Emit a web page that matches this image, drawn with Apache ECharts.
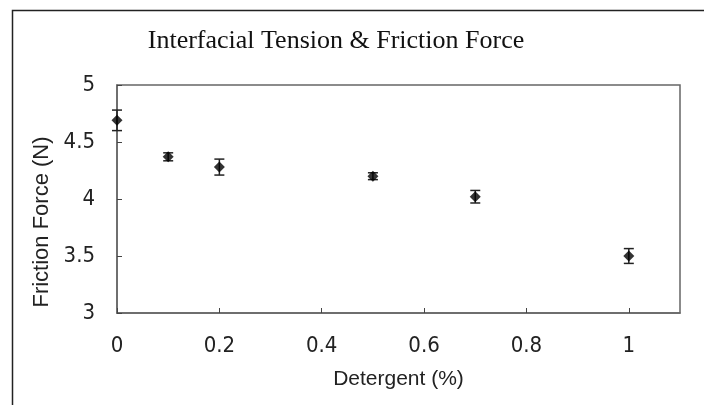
<!DOCTYPE html>
<html style="height:100%">
<head>
    <meta charset="utf-8">
    <title>Interfacial Tension & Friction Force</title>
    <script src="https://cdn.jsdelivr.net/npm/echarts@6/dist/echarts.min.js"></script>
</head>
<body style="height:100%;margin:0">
    <div id="main" style="width:704px;height:405px;"></div>
    <script type="text/javascript">
        var detergent = [0, 0.1, 0.2, 0.5, 0.7, 1.0];
        var friction = [4.69, 4.37, 4.28, 4.2, 4.02, 3.5];
        var errorMargin = [0.09, 0.035, 0.07, 0.03, 0.055, 0.065];

        var narrow = "'Liberation Sans Narrow', 'DejaVu Sans Condensed', sans-serif";
        var sans = "'Liberation Sans', Arial, sans-serif";

        var myChart = echarts.init(document.getElementById('main'));

        var points = detergent.map(function (x, i) { return [x, friction[i]]; });
        var bars = detergent.map(function (x, i) {
            return [x, friction[i] - errorMargin[i], friction[i] + errorMargin[i]];
        });

        var option = {
            backgroundColor: '#fff',
            animation: false,
            title: {
                text: 'Interfacial Tension & Friction Force',
                left: 331,
                textAlign: 'center',
                top: 23,
                textStyle: {
                    fontFamily: "'Liberation Serif', 'DejaVu Serif', serif",
                    fontWeight: 'normal',
                    fontSize: 26,
                    color: '#111'
                }
            },
            graphic: [{
                type: 'rect',
                left: 10,
                top: 8,
                shape: { width: 720, height: 420 },
                style: { fill: 'none', stroke: '#222', lineWidth: 1.5 },
                silent: true
            }],
            grid: {
                left: 117,
                right: 24,
                top: 85,
                bottom: 92,
                show: true,
                borderColor: '#666',
                borderWidth: 1.5,
                backgroundColor: 'transparent'
            },
            xAxis: {
                type: 'value',
                min: 0,
                max: 1.1,
                interval: 0.2,
                name: 'Detergent (%)',
                nameLocation: 'middle',
                nameGap: 56,
                nameTextStyle: { fontFamily: sans, fontSize: 21, color: '#222' },
                axisLine: { show: true, lineStyle: { color: '#666', width: 1.5 } },
                axisTick: { show: true, inside: true, length: 5, lineStyle: { color: '#444' } },
                axisLabel: {
                    margin: 22,
                    showMaxLabel: false,
                    fontFamily: narrow,
                    fontSize: 22,
                    color: '#222'
                },
                splitLine: { show: false }
            },
            yAxis: {
                type: 'value',
                min: 3,
                max: 5,
                interval: 0.5,
                name: 'Friction Force (N)',
                nameLocation: 'middle',
                nameGap: 58,
                nameTextStyle: {
                    fontFamily: sans,
                    fontSize: 22,
                    color: '#222',
                    padding: [0, 46, 0, 0]
                },
                axisLine: { show: true, lineStyle: { color: '#666', width: 1.5 } },
                axisTick: { show: true, inside: true, length: 5, lineStyle: { color: '#444' } },
                axisLabel: {
                    margin: 22,
                    fontFamily: narrow,
                    fontSize: 22,
                    color: '#222'
                },
                splitLine: { show: false }
            },
            series: [{
                type: 'custom',
                name: 'error',
                data: bars,
                renderItem: function (params, api) {
                    var x = api.value(0);
                    var lo = api.coord([x, api.value(1)]);
                    var hi = api.coord([x, api.value(2)]);
                    var cap = 5;
                    var st = { stroke: '#222', lineWidth: 1.5 };
                    return {
                        type: 'group',
                        children: [
                            { type: 'line', shape: { x1: hi[0], y1: hi[1], x2: lo[0], y2: lo[1] }, style: st },
                            { type: 'line', shape: { x1: hi[0] - cap, y1: hi[1], x2: hi[0] + cap, y2: hi[1] }, style: st },
                            { type: 'line', shape: { x1: lo[0] - cap, y1: lo[1], x2: lo[0] + cap, y2: lo[1] }, style: st }
                        ]
                    };
                },
                z: 2
            }, {
                type: 'scatter',
                name: 'Friction Force',
                data: points,
                symbol: 'diamond',
                symbolSize: 11,
                itemStyle: { color: '#000' },
                z: 3
            }]
        };

        myChart.setOption(option);
    </script>
</body>
</html>
